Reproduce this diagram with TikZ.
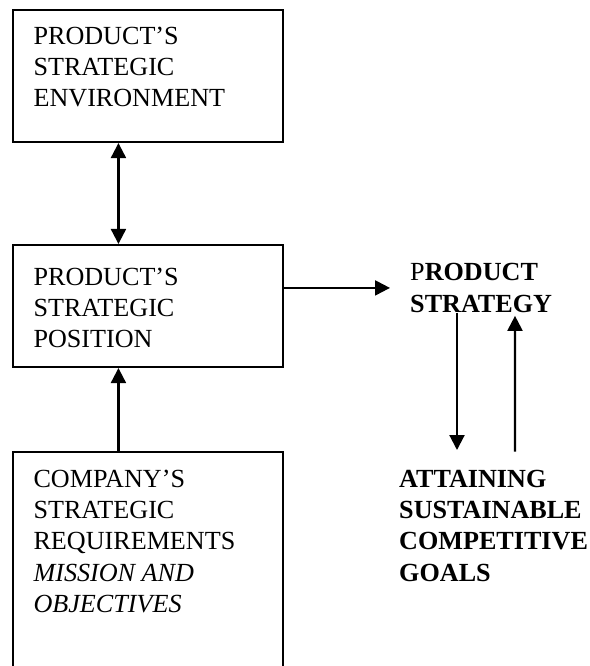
\documentclass[tikz,border=0pt]{standalone}
\usepackage{fontspec}
\setmainfont{Liberation Serif}
\usetikzlibrary{arrows.meta}

\begin{document}
\begin{tikzpicture}[
    box/.style = {draw, line width = 1.8pt, minimum width = 8.11cm, inner sep = 0pt},
    txt/.style = {anchor = north west, align = left, inner sep = 0pt, font = \fontsize{22.3}{26.6}\selectfont},
    bold txt/.style = {txt, font = \fontsize{22.3}{26.6}\selectfont\bfseries},
    >={Triangle[length = 0.45cm, width = 0.45cm]}
  ]
      \clip (0, 0) rectangle (17.7, -19.98);
      \node[box, minimum height = 3.96cm] (Environment) at (4.44, -2.28) {};
      \node[txt] (Environment Text) at (1.0, -0.8) {PRODUCT’S\\STRATEGIC\\ENVIRONMENT};
      \node[box, minimum height = 3.66cm] (Position) at (4.44, -9.18) {};
      \node[txt] (Position Text) at (1.0, -8.04) {PRODUCT’S\\STRATEGIC\\POSITION};
      \node[box, minimum height = 7.44cm] (Requirements) at (4.44, -17.28) {};
      \node[txt] (Requirements Text) at (1.0, -14.1) {COMPANY’S\\STRATEGIC\\REQUIREMENTS\\{\it MISSION AND}\\{\it OBJECTIVES}};
      \node[txt] (Strategy) at (12.3, -7.9) {P{\bf RODUCT}\\{\bf STRATEGY}};
      \node[bold txt] (Goals) at (11.97, -14.1) {ATTAINING\\SUSTAINABLE\\COMPETITIVE\\GOALS};
      \draw[<->, line width = 1.8pt] ([xshift = 3.2cm]Environment.south west) -- ([xshift = 3.2cm]Position.north west);
      \draw[->, line width = 1.8pt] ([xshift = 3.2cm]Requirements.north west) -- ([xshift = 3.2cm]Position.south west);
      \draw[->, line width = 1.8pt, shorten > = 0.6cm] (Position.east |- Strategy.west) -- (Strategy.west);
      \draw[->, line width = 1.8pt, shorten > = 0.6cm] ([xshift = 1.41cm]Strategy.south west) -- ([xshift = 1.74cm]Goals.north west);
      \draw[->, line width = 1.8pt, shorten < = 0.55cm, shorten > = 0.1cm] ([xshift = 3.48cm]Goals.north west) -- ([xshift = 3.15cm]Strategy.south west);
    \end{tikzpicture}
\end{document}
